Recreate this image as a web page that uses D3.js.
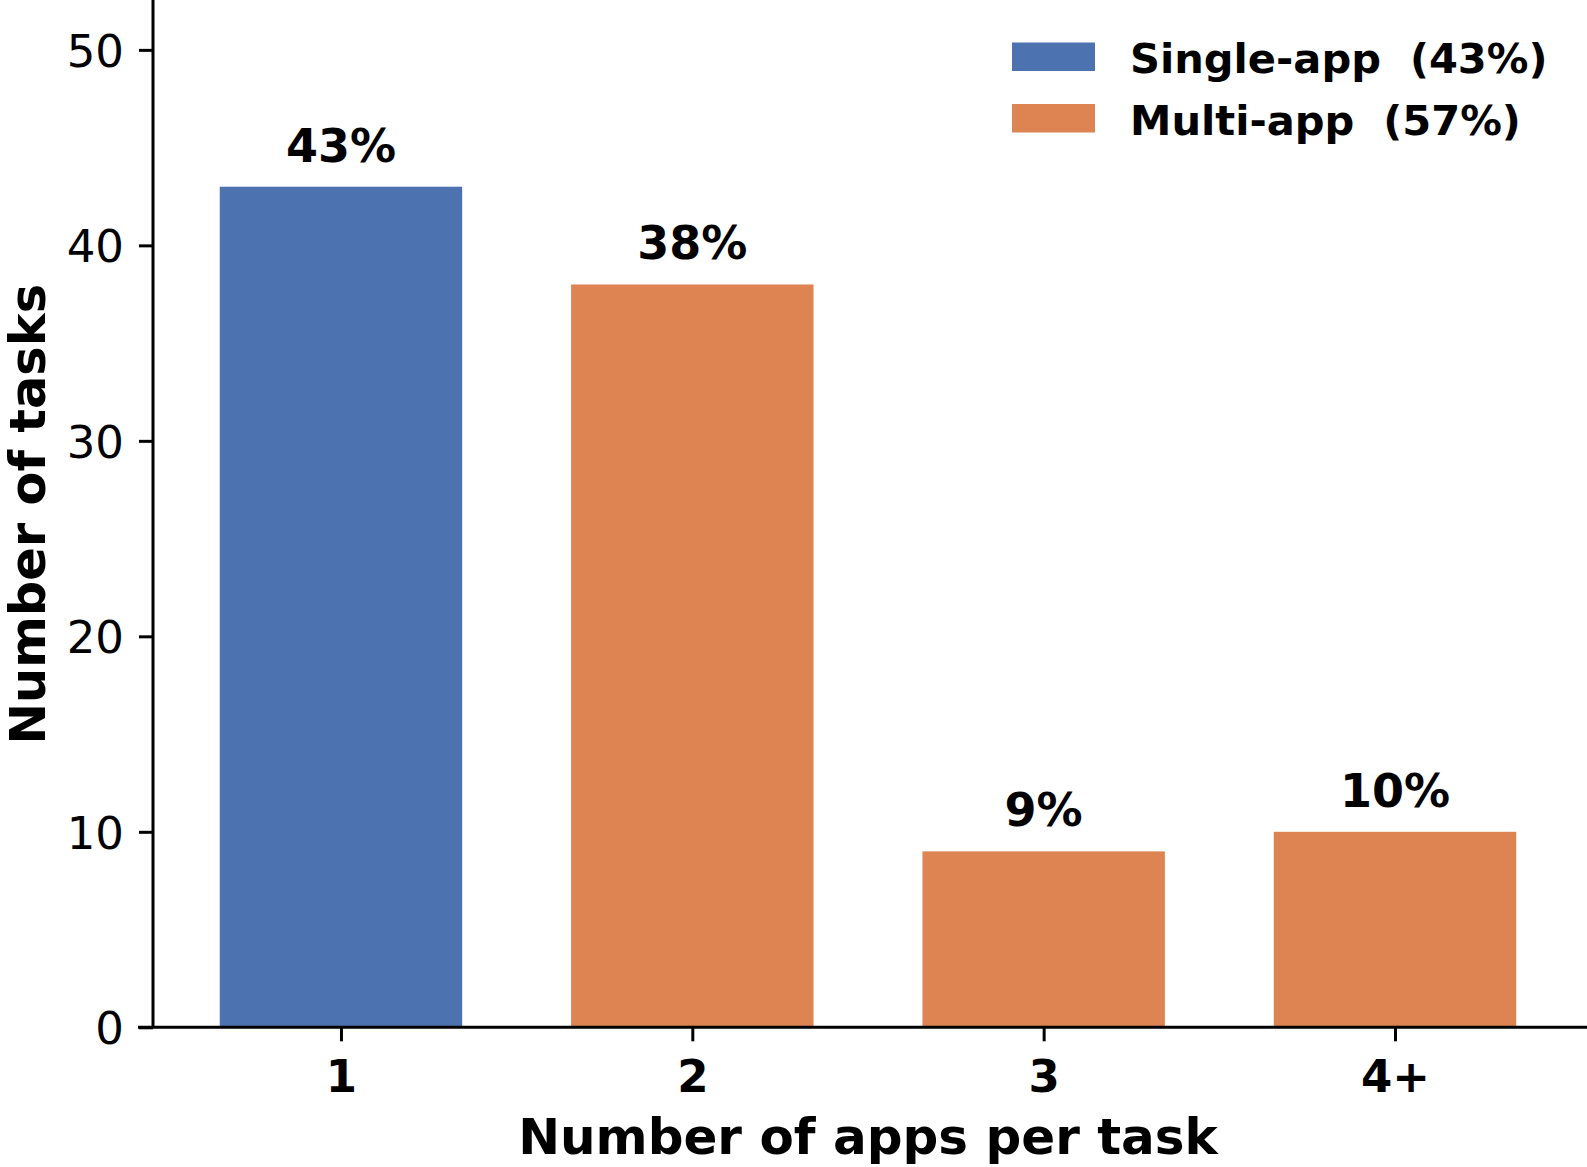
<!DOCTYPE html>
<html><head><meta charset="utf-8">
<script src="https://cdn.jsdelivr.net/npm/d3@7"></script>
<style>body{margin:0;background:#fff}text{font-family:"DejaVu Sans",sans-serif}</style>
</head><body><svg id="c" width="1587" height="1167"></svg>
<script>
const categories = ["1","2","3","4+"];
const values = [43,38,9,10];
const labels = ["43%","38%","9%","10%"];
const groups = ["single","multi","multi","multi"];
const yTicks = [0,10,20,30,40,50];
const legendNames = ["Single-app  (43%)","Multi-app  (57%)"];
const legendGroups = ["single","multi"];
const colors = {single:"#4c72b0", multi:"#dd8452"};

(function(){
const svg = d3.select("#c");
const pL = 153, pR = 1587, pT = 1, pB = 1027.3;
const y = d3.scaleLinear().domain([0,52.5]).range([pB, pT]);
const x = d3.scaleLinear().domain([-0.535,3.5465]).range([pL, pR]);
const bw = 0.69;

svg.selectAll("rect.bar").data(values).enter().append("rect")
  .attr("class","bar")
  .attr("x",(d,i)=>x(i-bw/2)).attr("width",x(bw)-x(0))
  .attr("y",d=>y(d)).attr("height",d=>y(0)-y(d))
  .attr("fill",(d,i)=>colors[groups[i]]);

svg.selectAll("text.lab").data(values).enter().append("text")
  .attr("class","lab").attr("x",(d,i)=>x(i)).attr("y",d=>y(d)-25)
  .attr("text-anchor","middle").attr("font-weight","bold").attr("font-size",46)
  .text((d,i)=>labels[i]);

const yAxis = svg.append("g").attr("transform",`translate(${pL},0)`)
  .call(d3.axisLeft(y).tickValues(yTicks).tickSize(14).tickPadding(15));
yAxis.selectAll("text").attr("font-size",45).attr("font-family","DejaVu Sans").attr("fill","#000").attr("dy","0.36em");
yAxis.selectAll("line").attr("stroke","#000").attr("stroke-width",3);
yAxis.select(".domain").attr("d",`M0,${pB}V${pT-1}`).attr("stroke","#000").attr("stroke-width",3);

const xAxis = svg.append("g").attr("transform",`translate(0,${pB})`)
  .call(d3.axisBottom(x).tickValues([0,1,2,3]).tickFormat(i=>categories[i]).tickSize(14).tickPadding(18));
xAxis.selectAll("text").attr("font-size",45).attr("font-weight","bold").attr("font-family","DejaVu Sans").attr("fill","#000").attr("dy","0.72em");
xAxis.selectAll("line").attr("stroke","#000").attr("stroke-width",3);
xAxis.select(".domain").attr("d",`M${pL-15},0H${pR}`).attr("stroke","#000").attr("stroke-width",3);

svg.append("text").attr("x",868).attr("y",1154).attr("text-anchor","middle")
  .attr("font-weight","bold").attr("font-size",50).text("Number of apps per task");
svg.append("text").attr("transform",`translate(45,${(pT+pB)/2}) rotate(-90)`).attr("text-anchor","middle")
  .attr("font-weight","bold").attr("font-size",49.5).text("Number of tasks");

const lg = svg.append("g");
legendNames.forEach((n,i)=>{
  lg.append("rect").attr("x",1012).attr("y",42.5+i*61.5).attr("width",83).attr("height",28.5).attr("fill",colors[legendGroups[i]]);
  lg.append("text").attr("x",1130).attr("y",73+i*61.5).attr("font-weight","bold").attr("font-size",41.6)
    .style("white-space","pre").text(n);
});
})();
</script></body></html>
